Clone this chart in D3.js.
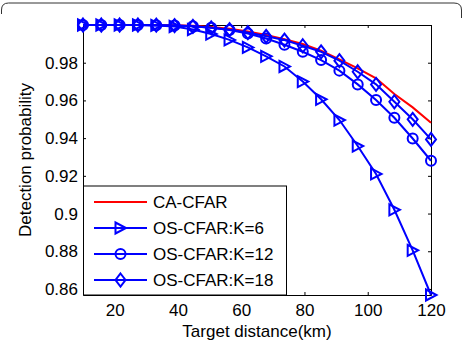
<!DOCTYPE html>
<html>
<head>
<meta charset="utf-8">
<script src="https://cdn.jsdelivr.net/npm/d3@7"></script>
<style>
  body { margin: 0; background: #fff; }
  text { font-family: "Liberation Sans", Arial, sans-serif; }
</style>
</head>
<body>
<div id="visualization"></div>
<script>
// 20 samples between 10 and 120 km
const distance = [10, 15.79, 21.58, 27.37, 33.16, 38.95, 44.74, 50.53, 56.32, 62.11,
  67.89, 73.68, 79.47, 85.26, 91.05, 96.84, 102.63, 108.42, 114.21, 120];

const caCfar = [1, 1, 1, 1, 1, 0.9999, 0.9996, 0.999, 0.998, 0.9965,
  0.9947, 0.9924, 0.9899, 0.9864, 0.9818, 0.977, 0.9717, 0.9634, 0.9563, 0.9482];
const osK6 = [1, 1, 1, 1, 0.9998, 0.9992, 0.9976, 0.9952, 0.9921, 0.9881,
  0.9834, 0.978, 0.970, 0.9606, 0.9496, 0.9358, 0.921, 0.902, 0.8805, 0.8568];
const osK12 = [1, 1, 1, 1, 0.9999, 0.9997, 0.9993, 0.9985, 0.9973, 0.9955,
  0.9928, 0.9895, 0.9858, 0.9814, 0.9758, 0.9685, 0.9602, 0.9508, 0.9398, 0.928];
const osK18 = [1, 1, 1, 1, 0.9999, 0.9997, 0.9993, 0.9985, 0.9975, 0.996,
  0.994, 0.992, 0.989, 0.9858, 0.9811, 0.9752, 0.9685, 0.9593, 0.950, 0.9393];

const xTicks = [20, 40, 60, 80, 100, 120];
const yTicks = [0.86, 0.88, 0.9, 0.92, 0.94, 0.96, 0.98];

const seriesNames = ['CA-CFAR', 'OS-CFAR:K=6', 'OS-CFAR:K=12', 'OS-CFAR:K=18'];
const seriesValues = [caCfar, osK6, osK12, osK18];
const seriesColors = ['#ff0000', '#0000ff', '#0000ff', '#0000ff'];
const seriesMarkers = [null, 'triangle', 'circle', 'diamond'];

const width = 463;
const height = 342;
const margin = { top: 25, right: 32, bottom: 47, left: 83 };

const markerPaths = {
  triangle: 'M-5,-5.5L5.5,0L-5,5.5Z',
  diamond: 'M0,-6.5L5,0L0,6.5L-5,0Z',
};

function drawMarker(g, type, x, y, color) {
  if (type === 'circle') {
    g.append('circle')
      .attr('cx', x).attr('cy', y).attr('r', 5)
      .attr('fill', 'none').attr('stroke', color).attr('stroke-width', 2);
  } else {
    g.append('path')
      .attr('d', markerPaths[type])
      .attr('transform', `translate(${x},${y})`)
      .attr('fill', 'none').attr('stroke', color).attr('stroke-width', 2)
      .attr('stroke-linejoin', 'miter');
  }
}

const svg = d3.select('#visualization')
  .append('svg')
  .attr('width', width)
  .attr('height', height);

svg.append('rect').attr('width', width).attr('height', height).attr('fill', '#fff');

// rounded frame of the original figure, only the top part shows
svg.append('path')
  .attr('d', 'M1.5,14V10Q1.5,3 8.5,3H454Q461.5,3 461.5,10V18')
  .attr('fill', 'none')
  .attr('stroke', '#333')
  .attr('stroke-width', 1);

const xScale = d3.scaleLinear().domain([10, 120]).range([margin.left, width - margin.right]);
const yScale = d3.scaleLinear().domain([0.8568, 1]).range([height - margin.bottom, margin.top]);

const plot = svg.append('g');

// box with inward ticks
plot.append('g')
  .attr('transform', `translate(0,${yScale.range()[0]})`)
  .call(d3.axisBottom(xScale).tickValues(xTicks).tickSizeInner(-3).tickSizeOuter(0).tickPadding(9))
  .call((g) => g.selectAll('text').attr('font-size', 17).attr('fill', '#000'));

plot.append('g')
  .attr('transform', `translate(${margin.left},0)`)
  .call(d3.axisLeft(yScale).tickValues(yTicks).tickFormat(d3.format('')).tickSizeInner(-3).tickSizeOuter(0).tickPadding(5))
  .call((g) => g.selectAll('text').attr('font-size', 17).attr('fill', '#000'));

plot.append('g')
  .attr('transform', `translate(0,${margin.top})`)
  .call(d3.axisTop(xScale).tickValues(xTicks).tickFormat('').tickSizeInner(-3).tickSizeOuter(0));

plot.append('g')
  .attr('transform', `translate(${width - margin.right},0)`)
  .call(d3.axisRight(yScale).tickValues(yTicks).tickFormat('').tickSizeInner(-3).tickSizeOuter(0));

plot.selectAll('.domain').attr('stroke', '#000');
plot.selectAll('.tick line').attr('stroke', '#000');

// series
const line = d3.line()
  .x((d) => xScale(d[0]))
  .y((d) => yScale(d[1]));

seriesValues.forEach((values, i) => {
  const pts = distance.map((d, j) => [d, values[j]]);
  const g = svg.append('g');
  g.append('path')
    .datum(pts)
    .attr('d', line)
    .attr('fill', 'none')
    .attr('stroke', seriesColors[i])
    .attr('stroke-width', 2);
  if (seriesMarkers[i]) {
    pts.forEach((p) => drawMarker(g, seriesMarkers[i], xScale(p[0]), yScale(p[1]), seriesColors[i]));
  }
});

// legend
const legend = svg.append('g');
legend.append('rect')
  .attr('x', 83.5).attr('y', 186)
  .attr('width', 203).attr('height', 109)
  .attr('fill', '#fff').attr('stroke', '#000').attr('stroke-width', 1);

seriesNames.forEach((name, i) => {
  const y = 202 + i * 26;
  legend.append('line')
    .attr('x1', 94).attr('x2', 147).attr('y1', y).attr('y2', y)
    .attr('stroke', seriesColors[i]).attr('stroke-width', 2);
  if (seriesMarkers[i]) drawMarker(legend, seriesMarkers[i], 120.5, y, seriesColors[i]);
  legend.append('text')
    .attr('x', 153).attr('y', y + 6)
    .attr('font-size', 17)
    .text(name);
});

// axis labels
svg.append('text')
  .attr('x', 257).attr('y', 337)
  .attr('text-anchor', 'middle')
  .attr('font-size', 17)
  .text('Target distance(km)');

svg.append('text')
  .attr('transform', 'translate(31,160) rotate(-90)')
  .attr('text-anchor', 'middle')
  .attr('font-size', 17)
  .text('Detection probability');
</script>
</body>
</html>
